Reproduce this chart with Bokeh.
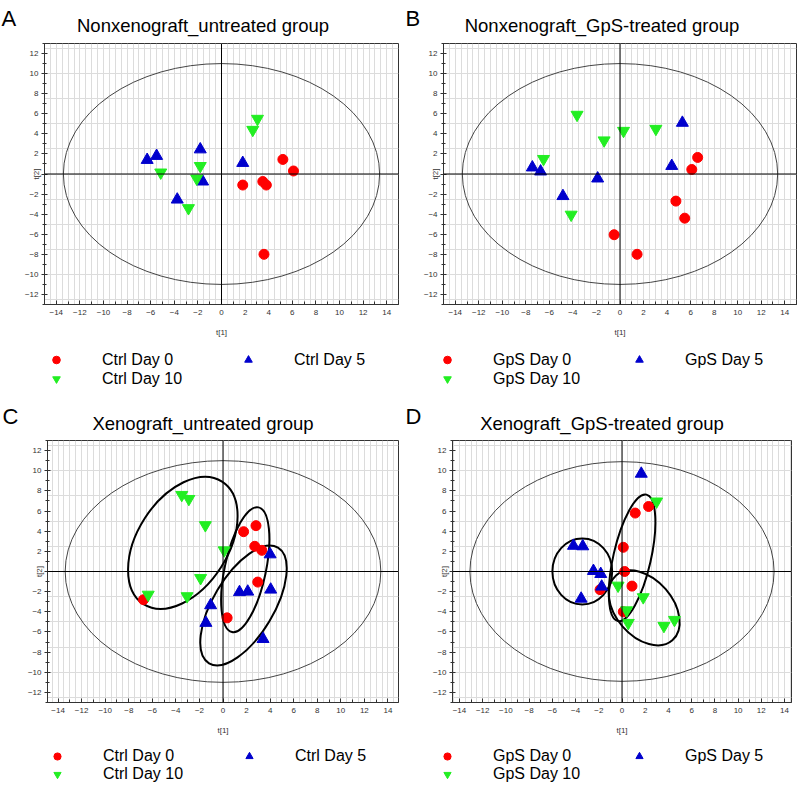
import math
from bokeh.plotting import figure
from bokeh.models import Range1d, SingleIntervalTicker, Span, Label, Legend, LegendItem
from bokeh.layouts import column, row
from bokeh.embed import file_html
from bokeh.resources import INLINE
from bokeh.core.properties import value

FONT = "Liberation Sans"
RED = "#ff0000"
BLUE = "#0000cd"
GREEN = "#22ee22"

# ---------------- data ----------------
# Panel A: Nonxenograft_untreated group
a_day0_x = [1.8, 5.2, 6.1, 3.5, 3.8, 3.6]
a_day0_y = [-1.1, 1.45, 0.3, -0.75, -1.1, -8.0]
a_day5_x = [-6.3, -5.5, -1.8, 1.8, -1.6, -3.75]
a_day5_y = [1.4, 1.8, 2.45, 1.1, -0.75, -2.55]
a_day10_x = [3.05, 2.65, -5.15, -1.8, -2.1, -2.8]
a_day10_y = [5.5, 4.4, 0.15, 0.8, -0.45, -3.4]

# Panel B: Nonxenograft_GpS-treated group
b_day0_x = [6.6, 6.1, 4.75, 5.5, -0.5, 1.45]
b_day0_y = [1.65, 0.45, -2.7, -4.4, -6.05, -8.0]
b_day5_x = [5.3, 4.4, -7.45, -6.75, -1.9, -4.85]
b_day5_y = [5.1, 0.8, 0.65, 0.25, -0.45, -2.2]
b_day10_x = [-3.65, 0.3, 3.05, -1.35, -6.5, -4.15]
b_day10_y = [5.9, 4.3, 4.5, 3.35, 1.5, -4.05]

# Panel C: Xenograft_untreated group
c_day0_x = [1.75, 2.8, 2.7, 3.3, 2.95, 0.35, -6.75]
c_day0_y = [3.95, 4.55, 2.5, 2.1, -1.05, -4.6, -2.8]
c_day5_x = [4.0, 4.05, 2.1, 1.4, -1.05, -1.45, 3.4]
c_day5_y = [1.7, -1.8, -2.0, -2.05, -3.35, -5.1, -6.7]
c_day10_x = [-3.5, -2.9, -1.5, 0.1, -1.9, -3.05, -6.35]
c_day10_y = [7.6, 7.2, 4.6, 2.1, -0.65, -2.45, -2.3]

# Panel D: Xenograft_GpS-treated group
d_day0_x = [1.14, 2.29, 0.11, 0.23, 0.86, -1.89, 0.11]
d_day0_y = [5.8, 6.45, 2.4, 0.0, -1.45, -1.8, -4.0]
d_day5_x = [1.66, -4.18, -3.38, -2.46, -1.83, -1.75, -3.52]
d_day5_y = [9.7, 2.55, 2.5, 0.05, -0.25, -1.5, -2.7]
d_day10_x = [2.98, -0.34, 1.83, 0.40, 0.54, 3.61, 4.52]
d_day10_y = [6.95, -1.4, -2.55, -3.85, -5.1, -5.4, -4.8]

# group ellipses (center x, center y, width, height, angle in degrees)
c_ell_x = [-3.41, 1.89, 1.74]
c_ell_y = [2.84, 0.18, -3.37]
c_ell_w = [12.36, 10.82, 11.43]
c_ell_h = [9.0, 4.09, 6.02]
c_ell_angle = [57.4, 78.0, 59.2]

d_ell_x = [-3.42, 0.87, 1.91]
d_ell_y = [0.0, 1.36, -3.61]
d_ell_w = [5.15, 11.16, 7.40]
d_ell_h = [6.55, 3.73, 5.66]
d_ell_angle = [0.0, 77.2, 131.0]

# Hotelling T2 ellipse (full width, full height)
abc_t2 = [26.8, 22.0]
d_t2 = [26.2, 21.8]

ctrl_labels = ["Ctrl Day 0", "Ctrl Day 5", "Ctrl Day 10"]
gps_labels = ["GpS Day 0", "GpS Day 5", "GpS Day 10"]

MARKERS = [("circle", 10, RED), ("triangle", 12, BLUE), ("inverted_triangle", 12, GREEN)]


def blank(width, height, x0=0, y0=0):
    h = figure(width=width, height=height, x_range=Range1d(x0, x0 + width),
               y_range=Range1d(y0, y0 + height), output_backend="svg",
               toolbar_location=None, min_border=0)
    h.axis.visible = False
    h.grid.visible = False
    h.outline_line_color = None
    h.background_fill_color = "white"
    h.border_fill_color = "white"
    return h


def make_header(letter, title, width, height, letter_x, letter_base, title_base):
    h = blank(width, height)
    h.add_layout(Label(x=letter_x, y=height - letter_base, text=letter,
                       text_align="left", text_baseline="alphabetic",
                       text_font=FONT, text_font_size="22px", text_color="black"))
    h.add_layout(Label(x=202.5, y=height - title_base, text=title,
                       text_align="center", text_baseline="alphabetic",
                       text_font=FONT, text_font_size="18.5px", text_color="black"))
    return h


def make_legend(labels, series, width, height, leg_x, leg_y, row_h):
    # the series renderers lie outside this strip's ranges; only their legend shows
    g = blank(width, height, 1000, 1000)
    items = []
    for lab, (xs, ys), (mk, sz, col) in zip(labels, series, MARKERS):
        r = g.scatter(xs, ys, marker=mk, size=sz, fill_color=col, line_color=col)
        items.append(LegendItem(label=value(lab), renderers=[r]))
    legend = Legend(items=items, location=(leg_x, leg_y),
                    orientation="horizontal", ncols=2,
                    glyph_width=20, glyph_height=row_h, label_height=row_h,
                    label_standoff=36, label_width=136, spacing=0,
                    padding=0, margin=0,
                    border_line_alpha=0, background_fill_alpha=0,
                    label_text_font=FONT, label_text_font_size="16px",
                    label_text_color="black")
    g.add_layout(legend)
    return g


def make_panel(series, t2, ell, xr, width, height, bl, br, bt, bb):
    p = figure(width=width, height=height,
               x_range=Range1d(-xr, xr), y_range=Range1d(-13, 13),
               output_backend="svg", toolbar_location=None,
               min_border_left=bl, min_border_right=br,
               min_border_top=bt, min_border_bottom=bb)
    p.background_fill_color = "white"
    p.border_fill_color = "white"
    p.outline_line_color = "#333333"
    p.outline_line_width = 1

    # grid
    p.xgrid.ticker = SingleIntervalTicker(interval=0.5)
    p.ygrid.ticker = SingleIntervalTicker(interval=2.5)
    p.xgrid.grid_line_color = "#dcdcdc"
    p.ygrid.grid_line_color = "#dcdcdc"

    # axes
    for ax in (p.xaxis[0], p.yaxis[0]):
        ax.ticker = SingleIntervalTicker(interval=2, num_minor_ticks=2)
        ax.axis_line_color = "#333333"
        ax.major_tick_line_color = "#333333"
        ax.minor_tick_line_color = "#333333"
        ax.major_label_text_font = FONT
        ax.major_label_text_font_size = "8px"
        ax.major_label_text_color = "#333333"
        ax.axis_label_text_font = FONT
        ax.axis_label_text_font_size = "8px"
        ax.axis_label_text_font_style = "normal"
        ax.axis_label_text_color = "#333333"
    xa = p.xaxis[0]
    xa.major_tick_in = 4
    xa.major_tick_out = 0
    xa.minor_tick_in = 3
    xa.minor_tick_out = 0
    xa.major_label_standoff = 5
    xa.axis_label = "t[1]"
    xa.axis_label_standoff = 10
    ya = p.yaxis[0]
    ya.major_tick_in = 3
    ya.major_tick_out = 3
    ya.minor_tick_in = 2
    ya.minor_tick_out = 2
    ya.major_label_standoff = 3
    ya.major_label_overrides = {0: ""}
    ya.axis_label = "t[2]"
    ya.axis_label_standoff = -19

    # center lines
    p.add_layout(Span(location=0, dimension="height", line_color="black", line_width=1))
    p.add_layout(Span(location=0, dimension="width", line_color="black", line_width=1))

    # Hotelling ellipse
    p.ellipse(x=[0], y=[0], width=[t2[0]], height=[t2[1]],
              fill_color=None, line_color="#444444", line_width=1)

    if ell is not None:
        ex, ey, ew, eh, ea = ell
        p.ellipse(x=ex, y=ey, width=ew, height=eh,
                  angle=[math.radians(a) for a in ea],
                  fill_color=None, line_color="black", line_width=2)

    for (xs, ys), (mk, sz, col) in zip(series, MARKERS):
        p.scatter(xs, ys, marker=mk, size=sz, fill_color=col, line_color=col)
    return p


sA = [(a_day0_x, a_day0_y), (a_day5_x, a_day5_y), (a_day10_x, a_day10_y)]
sB = [(b_day0_x, b_day0_y), (b_day5_x, b_day5_y), (b_day10_x, b_day10_y)]
sC = [(c_day0_x, c_day0_y), (c_day5_x, c_day5_y), (c_day10_x, c_day10_y)]
sD = [(d_day0_x, d_day0_y), (d_day5_x, d_day5_y), (d_day10_x, d_day10_y)]

hA = make_header("A", "Nonxenograft_untreated group", 399, 42, 1, 18, 24.5)
hB = make_header("B", "Nonxenograft_GpS-treated group", 398, 42, 6, 18, 24.5)
hC = make_header("C", "Xenograft_untreated group", 399, 49, 2, 26, 33)
hD = make_header("D", "Xenograft_GpS-treated group", 398, 49, 6, 26, 33)

pA = make_panel(sA, abc_t2, None, 15, 399, 302, 44, 1, 1, 40)
pB = make_panel(sB, abc_t2, None, 15, 398, 302, 44, 1, 1, 40)
pC = make_panel(sC, abc_t2, (c_ell_x, c_ell_y, c_ell_w, c_ell_h, c_ell_angle),
                14.9, 399, 303, 47, 1, 1, 40)
pD = make_panel(sD, d_t2, (d_ell_x, d_ell_y, d_ell_w, d_ell_h, d_ell_angle),
                14.6, 398, 303, 53, 6, 1, 40)

lA = make_legend(ctrl_labels, sA, 399, 46, 46, 2, 19)
lB = make_legend(gps_labels, sB, 398, 46, 38, 2, 19)
lC = make_legend(ctrl_labels, sC, 399, 42, 47, 1, 18)
lD = make_legend(gps_labels, sD, 398, 42, 38, 1, 18)

layout = column(row(hA, hB), row(pA, pB), row(lA, lB),
                row(hC, hD), row(pC, pD), row(lC, lD))
open("out.html", "w").write(file_html(layout, INLINE))
